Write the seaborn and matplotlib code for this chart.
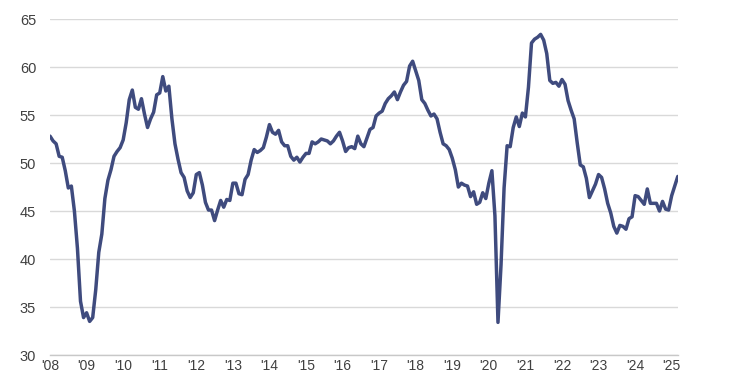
import numpy as np
import pandas as pd
import seaborn as sns
import matplotlib.pyplot as plt
from matplotlib.ticker import MultipleLocator

# monthly index values, Jan 2008 .. Mar 2025
v2008 = [52.8, 52.3, 52.0, 50.7, 50.6, 49.2, 47.4, 47.6, 45.0, 41.1, 35.6, 33.9]
v2009 = [34.4, 33.5, 33.9, 36.8, 40.7, 42.6, 46.3, 48.2, 49.3, 50.7, 51.2, 51.6]
v2010 = [52.4, 54.2, 56.6, 57.6, 55.8, 55.6, 56.7, 55.1, 53.7, 54.6, 55.3, 57.1]
v2011 = [57.3, 59.0, 57.5, 58.0, 54.6, 52.0, 50.4, 49.0, 48.5, 47.1, 46.4, 46.9]
v2012 = [48.8, 49.0, 47.7, 45.9, 45.1, 45.1, 44.0, 45.1, 46.1, 45.4, 46.2, 46.1]
v2013 = [47.9, 47.9, 46.8, 46.7, 48.3, 48.8, 50.3, 51.4, 51.1, 51.3, 51.6, 52.7]
v2014 = [54.0, 53.2, 53.0, 53.4, 52.2, 51.8, 51.8, 50.7, 50.3, 50.6, 50.1, 50.6]
v2015 = [51.0, 51.0, 52.2, 52.0, 52.2, 52.5, 52.4, 52.3, 52.0, 52.3, 52.8, 53.2]
v2016 = [52.3, 51.2, 51.6, 51.7, 51.5, 52.8, 52.0, 51.7, 52.6, 53.5, 53.7, 54.9]
v2017 = [55.2, 55.4, 56.2, 56.7, 57.0, 57.4, 56.6, 57.4, 58.1, 58.5, 60.1, 60.6]
v2018 = [59.6, 58.6, 56.6, 56.2, 55.5, 54.9, 55.1, 54.6, 53.2, 52.0, 51.8, 51.4]
v2019 = [50.5, 49.3, 47.5, 47.9, 47.7, 47.6, 46.5, 47.0, 45.7, 45.9, 46.9, 46.3]
v2020 = [47.9, 49.2, 44.5, 33.4, 39.4, 47.4, 51.8, 51.7, 53.7, 54.8, 53.8, 55.2]
v2021 = [54.8, 57.9, 62.5, 62.9, 63.1, 63.4, 62.8, 61.4, 58.6, 58.3, 58.4, 58.0]
v2022 = [58.7, 58.2, 56.5, 55.5, 54.6, 52.1, 49.8, 49.6, 48.4, 46.4, 47.1, 47.8]
v2023 = [48.8, 48.5, 47.3, 45.8, 44.8, 43.4, 42.7, 43.5, 43.4, 43.1, 44.2, 44.4]
v2024 = [46.6, 46.5, 46.1, 45.7, 47.3, 45.8, 45.8, 45.8, 45.0, 46.0, 45.2, 45.1]
v2025 = [46.6, 47.6, 48.6]

values = (v2008 + v2009 + v2010 + v2011 + v2012 + v2013 + v2014 + v2015 + v2016
          + v2017 + v2018 + v2019 + v2020 + v2021 + v2022 + v2023 + v2024 + v2025)
years = list(range(2008, 2026))
year_labels = ["'" + str(y)[2:] for y in years]

df = pd.DataFrame({"t": 2008 + np.arange(len(values)) / 12.0, "value": values})

sns.set_style("white")
plt.rcParams["font.family"] = ["Liberation Sans", "DejaVu Sans"]

fig = plt.figure(figsize=(7.5, 3.75), dpi=100)
ax = fig.add_axes([0.0667, 0.0533, 0.837, 0.896])

sns.lineplot(data=df, x="t", y="value", color="#3f4b7e", linewidth=2.5, ax=ax)

ax.set_ylim(30, 65)
ax.set_yticks(np.arange(30, 66, 5))
ax.set_xlim(2008, 2008 + (len(values) - 1) / 12.0)
ax.set_xticks(years)
ax.set_xticklabels(year_labels)
ax.xaxis.set_minor_locator(MultipleLocator(0.5))

ax.grid(axis="y", color="#d9d9d9", linewidth=1.0)
ax.set_axisbelow(True)
for s in ["top", "right", "left"]:
    ax.spines[s].set_visible(False)
ax.spines["bottom"].set_color("#c8c8c8")
ax.spines["bottom"].set_linewidth(1.0)

ax.tick_params(axis="y", length=0, pad=10, labelsize=10.5, labelcolor="#404040")
ax.tick_params(axis="x", which="both", direction="inout", length=4, color="#c8c8c8",
               pad=1, labelsize=10, labelcolor="#404040")
ax.set_xlabel("")
ax.set_ylabel("")

fig.savefig("out.png", dpi=100)
